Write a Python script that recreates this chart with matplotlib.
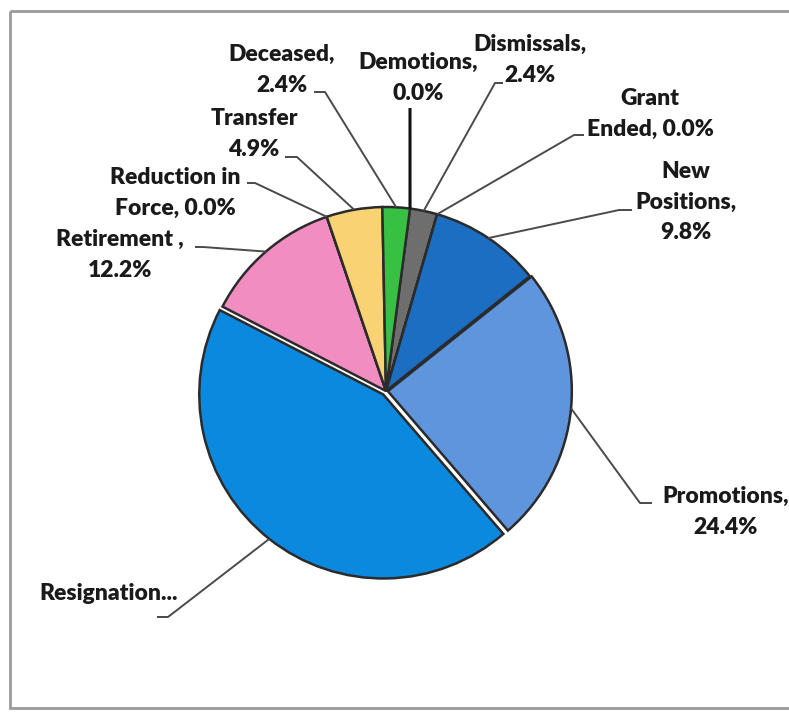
import numpy as np
import matplotlib
matplotlib.use("Agg")
import matplotlib.pyplot as plt
from matplotlib.patches import Rectangle

W, H = 789, 713

# data, clockwise from the top
categories = ["Demotions", "Dismissals", "Grant Ended", "New Positions", "Promotions",
              "Resignation", "Retirement", "Reduction in Force", "Transfer", "Deceased"]
shares = [0.0, 2.4, 0.0, 9.8, 24.4, 43.9, 12.2, 0.0, 4.9, 2.4]
label_texts = ["Demotions,\n0.0%", "Dismissals,\n2.4%", "Grant\nEnded, 0.0%",
               "New\nPositions,\n9.8%", "Promotions,\n24.4%", "Resignation...",
               "Retirement ,\n12.2%", "Reduction in\nForce, 0.0%", "Transfer\n4.9%",
               "Deceased,\n2.4%"]

colors = ["#111111", "#6e6e6e", "#888888", "#1b6ec2", "#5e95dc",
          "#0b89de", "#f18dc1", "#cccccc", "#f8d273", "#38c043"]
explode_frac = [0, 0, 0, 0, 0.01, 0.024, 0, 0, 0, 0]

# layout in pixels (y downwards): label centre and leader start/elbow
label_pos = [(418, 78), (530, 60), (650, 114), (686, 202), (726, 512),
             (109, 593), (120, 255), (175, 193), (254, 134), (282, 70)]
leader_pts = [[(410, 108)], [(503, 83), (495, 83)], [(584, 135), (574, 135)],
              [(632, 210), (619, 210)], [(652, 503), (640, 503)],
              [(157, 617), (168, 617)], [(195, 247), (203, 247)],
              [(247, 183), (255, 183)], [(285, 157), (297, 157)],
              [(314, 92), (325, 92)]]

cx, cy, R = 386, 391, 184

fig = plt.figure(figsize=(W / 100, H / 100), dpi=100)
ax = fig.add_axes([0, 0, 1, 1])

# pie explode is in data units, so scale by the radius
wedges, _ = ax.pie(shares, colors=colors, explode=[e * R for e in explode_frac],
                   startangle=-82.5, counterclock=True, center=(cx, cy), radius=R,
                   wedgeprops=dict(edgecolor="#2b2b2b", linewidth=1.8))
ax.set_xlim(0, W)
ax.set_ylim(H, 0)
ax.set_aspect("equal")
ax.axis("off")

# frame of the chart area
ax.add_patch(Rectangle((10, 11), 800, 697, fill=False, edgecolor="#9a9a9a",
                       linewidth=2, clip_on=False))

for i, w in enumerate(wedges):
    mid = np.deg2rad((w.theta1 + w.theta2) / 2)
    wx, wy = w.center
    ax_pt = (wx + R * np.cos(mid), wy + R * np.sin(mid))
    pts = leader_pts[i] + [ax_pt]
    xs, ys = zip(*pts)
    lc = "#111111" if i == 0 else "#4a4a4a"
    lw = 2.2 if i == 0 else 1.4
    ax.plot(xs, ys, color=lc, lw=lw, solid_capstyle="butt", zorder=1)
    tx, ty = label_pos[i]
    ax.text(tx, ty, label_texts[i], ha="center", va="center", multialignment="center",
            fontsize=16.5, fontweight="heavy", family=["Lato", "DejaVu Sans"],
            color="#1a1a1a", linespacing=1.55)

fig.savefig("out.png", dpi=100)
